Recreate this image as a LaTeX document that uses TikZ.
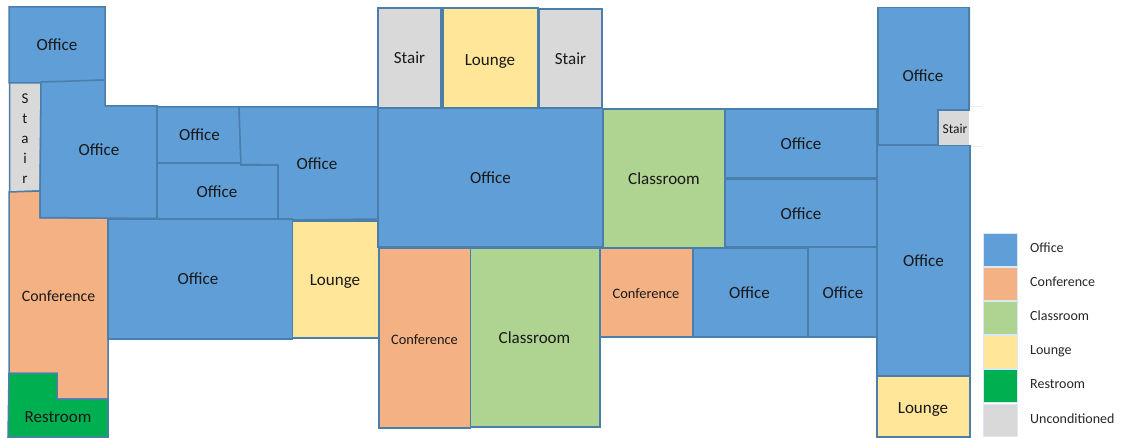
\documentclass[tikz,border=0pt]{standalone}
\usepackage{fontspec}
\setmainfont{Carlito}
\definecolor{offc}{HTML}{5F9ED7}
\definecolor{conf}{HTML}{F4B183}
\definecolor{clas}{HTML}{AFD391}
\definecolor{loun}{HTML}{FFE699}
\definecolor{rest}{HTML}{00B050}
\definecolor{uncd}{HTML}{D9D9D9}
\definecolor{edgeb}{HTML}{4A7EAB}
\definecolor{edgel}{HTML}{DCE8F4}
\tikzset{
  room/.style={draw=edgeb,line width=1.5pt,line join=miter},
  lab/.style={inner sep=0pt,text=black!90,text height=14pt,text depth=2pt,font=\fontsize{17}{20}\selectfont},
  labm/.style={lab,font=\fontsize{15.8}{18}\selectfont},
  labs/.style={lab,font=\fontsize{14.4}{16}\selectfont},
  labt/.style={lab,font=\fontsize{13.5}{15}\selectfont},
  leg/.style={draw=edgel,line width=.8pt},
  legt/.style={anchor=west,inner sep=0pt,text=black!85,text height=13pt,text depth=2.5pt,font=\fontsize{14}{16}\selectfont},
  faint/.style={draw=black!7,line width=.6pt},
}
\begin{document}
\begin{tikzpicture}[x=1pt,y=-1pt]
\useasboundingbox (0,0) rectangle (1125,438);
% west wing
\filldraw[room,fill=offc] (9,7) -- (105,7) -- (105,80) -- (41,83) -- (9,83) -- cycle;
\filldraw[room,fill=uncd] (9.5,83) -- (41,83) -- (40,191) -- (9.5,192) -- cycle;
\filldraw[room,fill=conf] (9,192) -- (40,191) -- (40,218) -- (108,218) -- (108,399) -- (57,399) -- (57,373.5) -- (9,373.5) -- cycle;
\filldraw[room,fill=rest] (9,373.5) -- (57,373.5) -- (57,399) -- (108,399) -- (108,437) -- (8,437) -- cycle;
\filldraw[room,fill=offc] (41,82) -- (105,80) -- (105,106) -- (157,106) -- (157,218.5) -- (40,217.5) -- cycle;
\filldraw[room,fill=offc] (157,107) -- (239,107) -- (241,163) -- (157,163) -- cycle;
\filldraw[room,fill=offc] (157,163) -- (241,163) -- (241,165) -- (278,165) -- (278,219) -- (157,219) -- cycle;
\filldraw[room,fill=offc] (239,107) -- (379,107) -- (379,219) -- (278,220) -- (278,165) -- (241,164.5) -- cycle;
\filldraw[room,fill=offc] (108,219) rectangle (292.5,339);
\filldraw[room,fill=loun] (292.5,221) rectangle (378.5,338);
% centre
\filldraw[room,fill=uncd] (378,8) rectangle (441,108);
\filldraw[room,fill=loun] (443,8) rectangle (538,108);
\filldraw[room,fill=uncd] (539.5,9) rectangle (602,108);
\filldraw[room,fill=offc] (378,108.5) rectangle (603,247);
\filldraw[room,fill=clas] (603,109) rectangle (724.5,247.5);
\filldraw[room,fill=conf] (379,248) rectangle (470.5,428);
\filldraw[room,fill=clas] (470.5,248) rectangle (600,427);
\filldraw[room,fill=conf] (600,248) rectangle (693,337);
\filldraw[room,fill=offc] (693,248) rectangle (808,337);
\filldraw[room,fill=offc] (808,247) rectangle (878,337);
\filldraw[room,fill=offc] (725,109) rectangle (877,178);
\filldraw[room,fill=offc] (725,179.5) rectangle (877,247);
% east wing
\draw[faint] (970.5,7) -- (970.5,106) -- (982,106);
\draw[faint] (970.5,146.5) -- (982,146.5);
\filldraw[room,fill=offc] (878,7.5) -- (969,7.5) -- (969,110) -- (938,110) -- (938,145) -- (878,145) -- cycle;
\filldraw[draw=none,fill=uncd] (938,110) rectangle (969,145);
\draw[room] (969,110) -- (938,110) -- (938,145);
\filldraw[room,fill=offc] (877,145.5) rectangle (970,376);
\filldraw[room,fill=loun] (877,376) rectangle (970,437);
% room labels
\node[lab] (o1) at (57,45) {Office};
\node[lab,align=center,font=\fontsize{15}{20}\selectfont,text height=,text depth=] (s0) at (25,139) {S\\t\\a\\i\\r};
\node[lab] (o2) at (99,150) {Office};
\node[lab] (o3) at (199.5,135) {Office};
\node[lab] (o4) at (217,191.5) {Office};
\node[lab] (o5) at (317,163.5) {Office};
\node[labm] (c1) at (58.5,296) {Conference};
\node[lab] (o6) at (198,279) {Office};
\node[lab] (l1) at (335,280) {Lounge};
\node[lab] (r1) at (58,416) {Restroom};
\node[lab] (s1) at (409.5,58) {Stair};
\node[lab] (l2) at (490,59.5) {Lounge};
\node[lab] (s2) at (570.5,59) {Stair};
\node[lab] (o7) at (490.5,178) {Office};
\node[lab] (k1) at (664,179) {Classroom};
\node[labs] (c2) at (424.5,339) {Conference};
\node[lab] (k2) at (534.5,338) {Classroom};
\node[labs] (c3) at (646,293) {Conference};
\node[lab] (o8) at (749.5,293) {Office};
\node[lab] (o9) at (843,292.5) {Office};
\node[lab] (o10) at (801,144) {Office};
\node[lab] (o11) at (801,213.5) {Office};
\node[lab] (o12) at (923,76) {Office};
\node[labt] (s3) at (955,127.5) {Stair};
\node[lab] (o13) at (923.5,260.5) {Office};
\node[lab] (l3) at (923,407.5) {Lounge};
% legend
\filldraw[leg,fill=offc] (983.5,233) rectangle (1017.5,266);
\filldraw[leg,fill=conf] (983.5,267) rectangle (1017.5,300);
\filldraw[leg,fill=clas] (983.5,301) rectangle (1017.5,334);
\filldraw[leg,fill=loun] (983.5,335) rectangle (1017.5,368);
\filldraw[leg,fill=rest] (983.5,369) rectangle (1017.5,402);
\filldraw[leg,fill=uncd] (983.5,404) rectangle (1017.5,436);
\node[legt] (t1) at (1030,247) {Office};
\node[legt] (t2) at (1030,281) {Conference};
\node[legt] (t3) at (1030,315) {Classroom};
\node[legt] (t4) at (1030,349) {Lounge};
\node[legt] (t5) at (1030,383) {Restroom};
\node[legt] (t6) at (1030,418) {Unconditioned};
\end{tikzpicture}
\end{document}
